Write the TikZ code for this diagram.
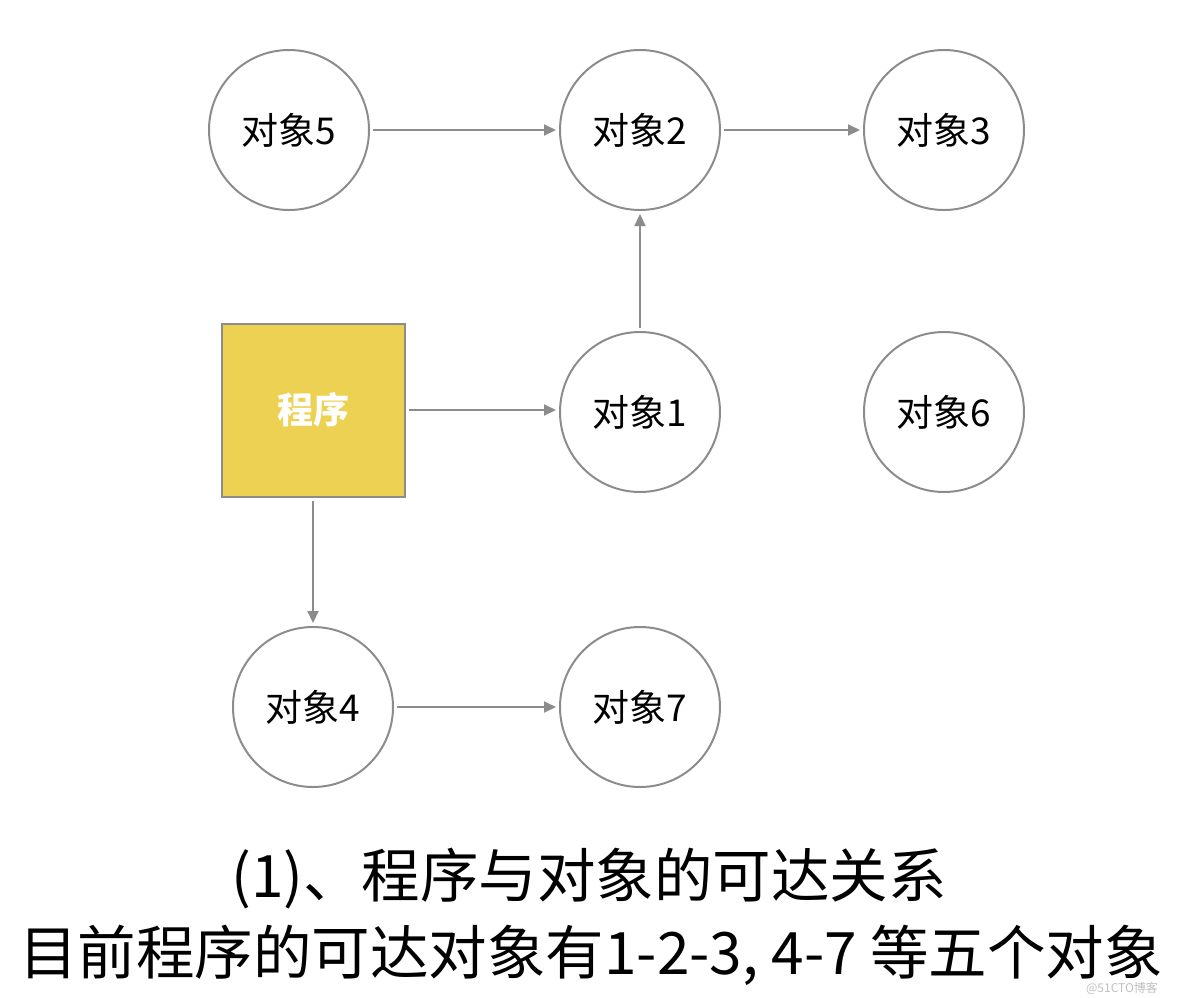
\documentclass[tikz,border=0pt]{standalone}
\usepackage{fontspec}
\setmainfont{Noto Sans CJK SC}
\usetikzlibrary{arrows.meta}
\definecolor{linegray}{HTML}{8C8C8C}
\definecolor{progyellow}{HTML}{EDD152}

\begin{document}
\begin{tikzpicture}[x=1pt,y=-1pt,
    obj/.style={circle,draw=linegray,line width=2pt,minimum size=160pt,inner sep=0pt,font=\fontsize{37}{40}\selectfont},
    progbox/.style={draw=linegray,line width=2pt,fill=progyellow,minimum width=183pt,minimum height=173pt,text=white,font=\fontsize{36}{40}\selectfont\bfseries},
    link/.style={draw=linegray,line width=2pt,-{Triangle[length=12pt,width=11pt]},shorten <=3pt,shorten >=3pt}]
    \useasboundingbox (0,0) rectangle (1184,997);

    \node[obj] (o5) at (289,130) {对象5};
    \node[obj] (o2) at (640,130) {对象2};
    \node[obj] (o3) at (944,130) {对象3};
    \node[progbox] (prog) at (313,410) {程序};
    \node[obj] (o1) at (640,412) {对象1};
    \node[obj] (o6) at (944,412) {对象6};
    \node[obj] (o4) at (313,707) {对象4};
    \node[obj] (o7) at (640,707) {对象7};

    \draw[link] (o5) -- (o2);
    \draw[link] (o2) -- (o3);
    \draw[link] (o1) -- (o2);
    \draw[link] (prog.east) -- (prog.east -| o1.west);
    \draw[link] (prog) -- (o4);
    \draw[link] (o4) -- (o7);

    \node[font=\fontsize{58.5}{62}\selectfont] (cap1) at (589,879) {(1)、程序与对象的可达关系};
    \node[font=\fontsize{58.5}{62}\selectfont] (cap2) at (591,955) {目前程序的可达对象有1-2-3, 4-7 等五个对象};
    \node[font=\fontsize{12}{14}\selectfont,text=black!25] (mark) at (1122,988) {@51CTO博客};
\end{tikzpicture}
\end{document}
